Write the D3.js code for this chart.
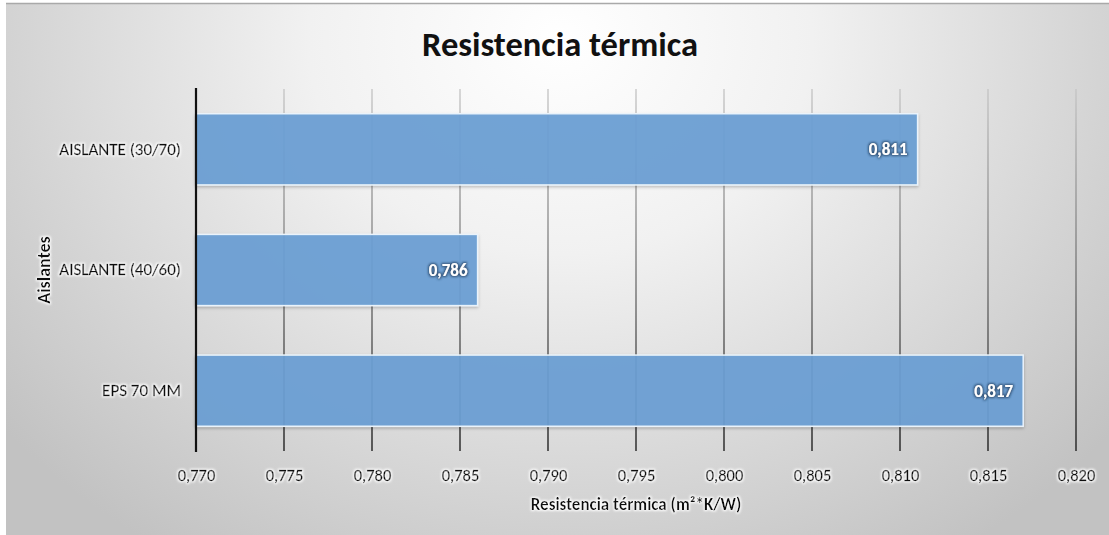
<!DOCTYPE html>
<html>
<head>
<meta charset="utf-8">
<script src="https://cdn.jsdelivr.net/npm/d3@7"></script>
<style>
  html, body { margin: 0; padding: 0; background: #fff; }
  svg { display: block; }
  text { font-family: Carlito, Lato, "Open Sans", sans-serif; }
</style>
</head>
<body>
<svg id="chart" width="1109" height="535"></svg>
<script>
// Thermal resistance per insulation type
const categories = ["AISLANTE (30/70)", "AISLANTE (40/60)", "EPS 70 MM"];
const values = [0.811, 0.786, 0.817];
const xTicks = [0.770, 0.775, 0.780, 0.785, 0.790, 0.795, 0.800, 0.805, 0.810, 0.815, 0.820];
const chartTitle = "Resistencia térmica";
const xTitle = "Resistencia térmica (m²*K/W)";
const yTitle = "Aislantes";

const W = 1109, H = 535;
const plot = { left: 196, right: 1076, top: 89, bottom: 451 };
const FONT = "Carlito, Lato, 'Open Sans', sans-serif";

const svg = d3.select("#chart");
const defs = svg.append("defs");

// soft radial backdrop
const bg = defs.append("radialGradient").attr("id", "bgGrad")
  .attr("gradientUnits", "userSpaceOnUse")
  .attr("cx", 560).attr("cy", 40).attr("r", 720)
  .attr("gradientTransform", "translate(560,40) scale(1,0.85) translate(-560,-40)");
bg.append("stop").attr("offset", 0).attr("stop-color", "#ffffff");
bg.append("stop").attr("offset", 0.35).attr("stop-color", "#f1f1f1");
bg.append("stop").attr("offset", 1).attr("stop-color", "#c2c2c2");

// gridlines fade from light at top to black at the axis
const gg = defs.append("linearGradient").attr("id", "gridGrad")
  .attr("gradientUnits", "userSpaceOnUse")
  .attr("x1", 0).attr("y1", plot.top).attr("x2", 0).attr("y2", plot.bottom);
gg.append("stop").attr("offset", 0).attr("stop-color", "#c4c4c4");
gg.append("stop").attr("offset", 0.55).attr("stop-color", "#6a6a6a");
gg.append("stop").attr("offset", 1).attr("stop-color", "#111111");

// white halo behind dark text
const glow = defs.append("filter").attr("id", "glowWhite")
  .attr("x", "-10%").attr("y", "-30%").attr("width", "120%").attr("height", "160%");
glow.append("feMorphology").attr("in", "SourceAlpha").attr("operator", "dilate").attr("radius", 1.2).attr("result", "d");
glow.append("feGaussianBlur").attr("in", "d").attr("stdDeviation", 1.2).attr("result", "b");
glow.append("feFlood").attr("flood-color", "#ffffff").attr("flood-opacity", 0.95).attr("result", "c");
glow.append("feComposite").attr("in", "c").attr("in2", "b").attr("operator", "in").attr("result", "s");
const gm = glow.append("feMerge");
gm.append("feMergeNode").attr("in", "s");
gm.append("feMergeNode").attr("in", "SourceGraphic");

// dark halo behind white value labels
const glowD = defs.append("filter").attr("id", "glowDark")
  .attr("x", "-10%").attr("y", "-30%").attr("width", "120%").attr("height", "160%");
glowD.append("feMorphology").attr("in", "SourceAlpha").attr("operator", "dilate").attr("radius", 0.8).attr("result", "d");
glowD.append("feGaussianBlur").attr("in", "d").attr("stdDeviation", 1.3).attr("result", "b");
glowD.append("feFlood").attr("flood-color", "#1d3b5c").attr("flood-opacity", 0.75).attr("result", "c");
glowD.append("feComposite").attr("in", "c").attr("in2", "b").attr("operator", "in").attr("result", "s");
const gmd = glowD.append("feMerge");
gmd.append("feMergeNode").attr("in", "s");
gmd.append("feMergeNode").attr("in", "SourceGraphic");

// bar shadow
const sh = defs.append("filter").attr("id", "barShadow")
  .attr("x", "-5%").attr("y", "-10%").attr("width", "110%").attr("height", "125%");
sh.append("feDropShadow").attr("dx", 0).attr("dy", 1.5).attr("stdDeviation", 1.5)
  .attr("flood-color", "#000").attr("flood-opacity", 0.25);

// frame and background
svg.append("rect").attr("x", 6).attr("y", 3).attr("width", W - 6).attr("height", H - 3)
  .attr("fill", "url(#bgGrad)");
svg.append("line").attr("x1", 6).attr("x2", W).attr("y1", 3.5).attr("y2", 3.5)
  .attr("stroke", "#a9a9a9").attr("stroke-width", 1.5);

const x = d3.scaleLinear().domain([0.770, 0.820]).range([plot.left, plot.right]);
const y = d3.scaleBand().domain(categories).range([plot.top, plot.bottom]).paddingInner(0.41).paddingOuter(0.205);

const fmt = v => d3.format(".3f")(v).replace(".", ",");

// vertical gridlines
svg.append("g").selectAll("line").data(xTicks.slice(1)).join("line")
  .attr("x1", d => x(d)).attr("x2", d => x(d))
  .attr("y1", plot.top).attr("y2", plot.bottom)
  .attr("stroke", "url(#gridGrad)").attr("stroke-width", 1.3);

// bars
const bars = svg.append("g");
bars.selectAll("rect").data(values).join("rect")
  .attr("x", x(0.770))
  .attr("y", (d, i) => y(categories[i]))
  .attr("width", d => x(d) - x(0.770))
  .attr("height", y.bandwidth())
  .attr("fill", "#6a9fd4")
  .attr("fill-opacity", 0.93)
  .attr("stroke", "#eaf3fb")
  .attr("stroke-width", 1.5)
  .attr("filter", "url(#barShadow)");

// value labels
svg.append("g").selectAll("text").data(values).join("text")
  .attr("x", d => x(d) - 10)
  .attr("y", (d, i) => y(categories[i]) + y.bandwidth() / 2)
  .attr("dy", "0.35em")
  .attr("text-anchor", "end")
  .attr("fill", "#ffffff")
  .attr("font-weight", "bold")
  .attr("font-size", 17)
  .attr("filter", "url(#glowDark)")
  .text(d => fmt(d));

// x axis
const xAxis = svg.append("g").attr("transform", `translate(0,${plot.bottom})`)
  .call(d3.axisBottom(x).tickValues(xTicks).tickFormat(fmt).tickSize(0).tickPadding(18));
xAxis.select(".domain").remove();
xAxis.selectAll("text")
  .attr("font-family", FONT)
  .attr("font-size", 16.5).attr("fill", "#111")
  .attr("stroke", "#111").attr("stroke-width", 0.35)
  .attr("filter", "url(#glowWhite)");

// y axis
const yAxis = svg.append("g").attr("transform", `translate(${plot.left},0)`)
  .call(d3.axisLeft(y).tickSize(0).tickPadding(15));
yAxis.select(".domain").remove();
yAxis.selectAll("text")
  .attr("font-family", FONT)
  .attr("font-size", 17).attr("fill", "#111")
  .attr("stroke", "#111").attr("stroke-width", 0.35)
  .attr("filter", "url(#glowWhite)");

svg.append("line")
  .attr("x1", plot.left).attr("x2", plot.left)
  .attr("y1", plot.top - 1).attr("y2", plot.bottom + 1)
  .attr("stroke", "#111").attr("stroke-width", 2.2);

// titles
svg.append("text")
  .attr("x", 560).attr("y", 56)
  .attr("text-anchor", "middle")
  .attr("font-size", 34.5).attr("font-weight", "bold").attr("fill", "#111")
  .text(chartTitle);

svg.append("text")
  .attr("x", (plot.left + plot.right) / 2).attr("y", 510)
  .attr("text-anchor", "middle")
  .attr("font-size", 17).attr("font-weight", "bold").attr("fill", "#111")
  .attr("filter", "url(#glowWhite)")
  .text(xTitle);

svg.append("text")
  .attr("transform", `translate(50,270) rotate(-90)`)
  .attr("text-anchor", "middle")
  .attr("font-size", 18).attr("font-weight", "bold").attr("fill", "#111")
  .attr("filter", "url(#glowWhite)")
  .text(yTitle);
</script>
</body>
</html>
